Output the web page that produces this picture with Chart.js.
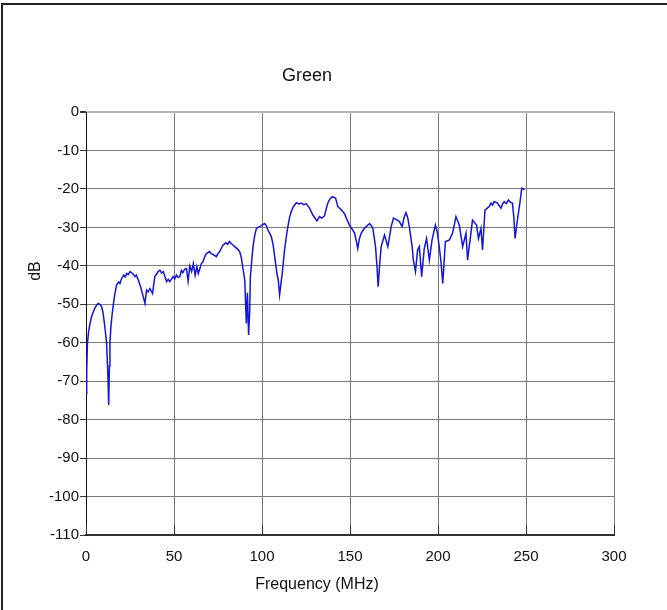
<!DOCTYPE html>
<html>
<head>
<meta charset="utf-8">
<title>Green</title>
<script src="https://cdn.jsdelivr.net/npm/chart.js@4"></script>
<style>
    html, body { margin: 0; padding: 0; background: #fff; }
    #wrap { width: 667px; height: 610px; }
</style>
</head>
<body>
<div id="wrap"><canvas id="chart" width="667" height="610"></canvas></div>
<script>
/* Green channel response (MHz, dB) */
var FREQ = [
    0.0, 0.4, 0.8, 1.5, 2.3, 3.0, 3.8, 5.0, 6.1, 7.0,
    8.0, 8.9, 9.6, 10.2, 11.0, 11.7, 12.4, 12.9, 13.3, 13.6,
    14.2, 14.9, 15.7, 16.4, 17.4, 18.5, 19.3, 20.2, 21.5, 22.3,
    23.1, 24.0, 25.0, 26.5, 27.8, 28.6, 29.7, 31.0, 32.5, 33.5,
    34.4, 35.3, 36.3, 37.8, 39.1, 40.0, 41.0, 42.0, 43.0, 43.9,
    45.8, 46.7, 47.6, 49.5, 50.4, 51.4, 52.3, 53.3, 54.2, 55.0,
    56.0, 57.1, 58.0, 59.0, 60.0, 61.0, 62.0, 63.0, 63.8, 64.5,
    65.5, 66.5, 67.5, 68.4, 70.3, 71.2, 72.0, 74.1, 75.0, 76.0,
    77.0, 77.9, 79.5, 80.5, 81.6, 82.5, 83.5, 84.5, 86.0, 87.3,
    88.3, 89.2, 90.2, 91.1, 91.7, 92.4, 93.0, 93.4, 94.2, 94.9,
    95.8, 96.8, 97.7, 98.7, 100.0, 101.5, 102.5, 103.4, 105.3, 106.3,
    107.2, 108.5, 109.3, 110.0, 110.8, 111.5, 112.8, 113.8, 114.7, 115.6,
    116.6, 118.0, 119.5, 121.0, 122.3, 123.8, 125.2, 127.0, 128.9, 130.0,
    131.2, 132.7, 134.0, 135.5, 136.5, 137.4, 138.6, 139.9, 141.8, 143.1,
    144.5, 145.9, 147.0, 147.9, 149.7, 151.0, 152.6, 153.6, 154.4, 155.3,
    156.4, 157.8, 159.2, 161.1, 162.0, 163.0, 164.5, 165.3, 166.0, 166.8,
    167.7, 169.6, 171.5, 173.4, 174.7, 176.4, 178.1, 179.6, 180.7, 181.8,
    182.8, 183.7, 185.3, 186.0, 187.2, 188.4, 189.4, 190.7, 192.2, 193.5,
    195.1, 196.6, 198.5, 199.5, 200.7, 201.7, 202.7, 204.2, 206.4, 208.3,
    210.2, 212.1, 214.0, 215.9, 216.8, 218.7, 219.6, 221.9, 223.0, 224.4,
    225.3, 226.7, 228.0, 229.1, 230.1, 231.0, 231.9, 233.8, 234.8, 235.8,
    236.7, 237.6, 238.8, 240.0, 241.2, 242.3, 243.1, 243.8, 245.1, 246.5,
    247.6, 248.3, 249.0
];
var DB = [
    -73.2, -67.5, -60.2, -57.0, -55.0, -53.5, -52.4, -51.0, -50.2, -49.8,
    -50.1, -50.6, -52.0, -54.0, -57.0, -60.2, -68.0, -76.2, -66.0, -60.0,
    -55.5, -52.4, -49.5, -47.2, -45.0, -44.2, -44.6, -43.3, -42.4, -42.9,
    -42.0, -42.3, -41.5, -42.0, -42.8, -42.4, -43.7, -45.4, -48.0, -49.8,
    -46.3, -46.8, -45.9, -47.2, -42.8, -42.2, -41.5, -41.1, -41.9, -41.5,
    -44.1, -43.5, -44.1, -42.8, -43.4, -42.4, -43.0, -42.8, -41.2, -41.8,
    -40.9, -40.7, -44.0, -40.0, -41.5, -39.4, -42.5, -40.2, -42.0, -41.0,
    -39.5, -38.9, -37.6, -36.8, -36.3, -36.9, -37.0, -37.6, -36.8, -36.3,
    -35.3, -34.6, -34.0, -34.4, -33.7, -34.2, -34.6, -35.0, -35.6, -36.3,
    -38.0, -40.7, -43.7, -55.0, -47.0, -58.0, -52.0, -42.8, -38.5, -35.0,
    -32.2, -30.3, -30.0, -29.8, -29.4, -29.0, -29.6, -30.7, -32.4, -34.5,
    -37.6, -42.0, -44.0, -47.6, -44.5, -42.0, -35.9, -32.5, -29.8, -27.6,
    -25.9, -24.5, -23.6, -23.9, -23.7, -24.1, -23.9, -25.0, -26.8, -27.5,
    -28.3, -27.2, -27.6, -27.0, -25.2, -23.7, -22.6, -22.0, -22.4, -24.6,
    -25.2, -25.9, -26.5, -27.6, -29.4, -30.3, -31.5, -33.5, -35.5, -33.0,
    -31.5, -30.5, -29.8, -29.0, -29.5, -30.3, -35.0, -40.0, -45.4, -40.0,
    -35.0, -32.0, -35.0, -29.8, -27.6, -28.0, -28.5, -29.8, -27.5, -26.2,
    -27.5, -29.8, -35.0, -38.5, -41.5, -35.9, -35.0, -42.8, -35.5, -32.9,
    -38.5, -33.3, -29.4, -31.0, -35.0, -39.0, -44.6, -33.7, -33.3, -31.5,
    -27.2, -29.4, -35.0, -31.5, -38.5, -31.5, -28.1, -29.4, -32.9, -30.3,
    -35.9, -25.5, -25.0, -24.6, -23.7, -24.2, -23.3, -23.7, -24.4, -25.0,
    -23.9, -23.3, -23.8, -22.9, -23.5, -23.7, -27.5, -32.9, -28.1, -23.7,
    -19.8, -19.9, -20.3
];
var X_TICKS = [0, 50, 100, 150, 200, 250, 300];
var Y_TICKS = [0, -10, -20, -30, -40, -50, -60, -70, -80, -90, -100, -110];

var FONT = '"Liberation Sans", Arial, sans-serif';
var LINE = '#1414dc';

var points = FREQ.map(function(f, i) { return { x: f, y: DB[i] }; });

// title, axis titles, frame lines and inner x ticks
var decor = {
    id: 'decor',
    afterDraw: function(chart) {
        var ctx = chart.ctx;
        var area = chart.chartArea;
        var xs = chart.scales.x;
        ctx.save();

        ctx.strokeStyle = '#222';
        ctx.lineWidth = 2;
        ctx.beginPath();
        ctx.moveTo(2, 610);
        ctx.lineTo(2, 4);
        ctx.lineTo(667, 4);
        ctx.stroke();

        ctx.strokeStyle = '#333';
        ctx.lineWidth = 1;
        X_TICKS.forEach(function(v) {
            var px = Math.round(xs.getPixelForValue(v)) + 0.5;
            ctx.beginPath();
            ctx.moveTo(px, area.bottom);
            ctx.lineTo(px, area.bottom - 10);
            ctx.stroke();
        });

        ctx.fillStyle = '#111';
        ctx.textAlign = 'center';
        ctx.textBaseline = 'middle';
        ctx.font = '18px ' + FONT;
        ctx.fillText('Green', 307, 76);

        ctx.font = '16px ' + FONT;
        ctx.fillText('Frequency (MHz)', 317, 585);

        ctx.translate(36, 271);
        ctx.rotate(-Math.PI / 2);
        ctx.fillText('dB', 0, 0);
        ctx.restore();
    }
};

new Chart(document.getElementById('chart'), {
    type: 'line',
    data: {
        datasets: [{
            data: points,
            borderColor: LINE,
            borderWidth: 1.5,
            pointRadius: 0,
            tension: 0,
            fill: false
        }]
    },
    options: {
        responsive: false,
        animation: false,
        devicePixelRatio: 1,
        layout: { padding: { top: 112, right: 53, left: 0, bottom: 0 } },
        plugins: { legend: { display: false }, tooltip: { enabled: false }, title: { display: false } },
        scales: {
            x: {
                type: 'linear',
                min: 0, max: 300,
                afterFit: function(s) { s.height = 75; },
                afterBuildTicks: function(s) { s.ticks = X_TICKS.map(function(v) { return { value: v }; }); },
                grid: { color: '#7a7a7a', lineWidth: 1, drawTicks: false },
                border: { color: '#333', width: 2 },
                ticks: { color: '#111', font: { family: FONT, size: 15 }, padding: 13, maxRotation: 0 }
            },
            y: {
                min: -110, max: 0,
                afterFit: function(s) { s.width = 86; },
                afterBuildTicks: function(s) { s.ticks = Y_TICKS.map(function(v) { return { value: v }; }); },
                grid: {
                    color: function(c) { return c.tick && c.tick.value === 0 ? '#b4b4b4' : '#7a7a7a'; },
                    lineWidth: function(c) { return c.tick && c.tick.value === 0 ? 2 : 1; },
                    tickLength: 6,
                    tickColor: '#333'
                },
                border: { color: '#111', width: 1 },
                ticks: { color: '#111', font: { family: FONT, size: 15 }, padding: 1 }
            }
        }
    },
    plugins: [decor]
});
</script>
</body>
</html>
